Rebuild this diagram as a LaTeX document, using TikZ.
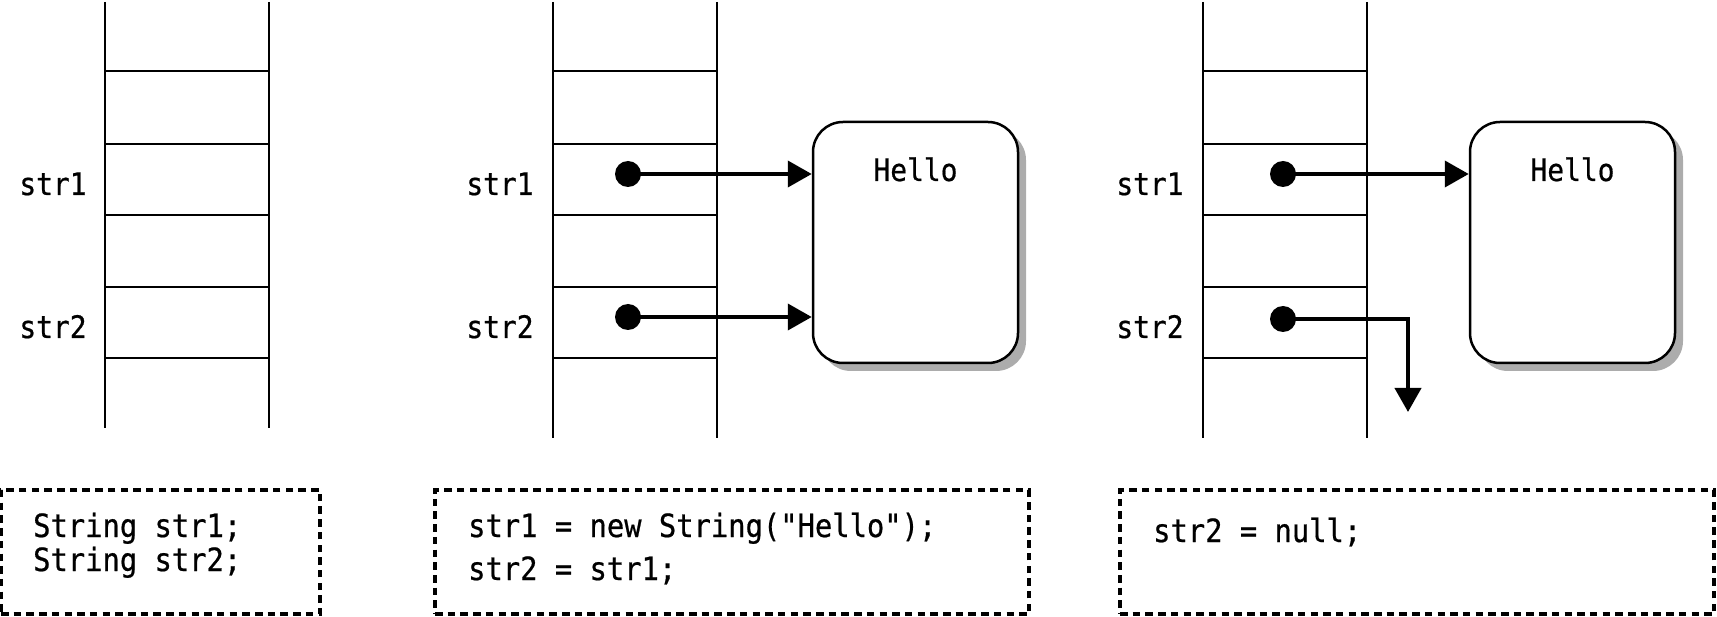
\documentclass[tikz,border=0pt]{standalone}
\usepackage{fontspec}
\newfontfamily\codefont[FakeStretch=0.9,FakeBold=0.6]{DejaVu Sans Mono}
\usetikzlibrary{arrows.meta,shadows}
\begin{document}
\begin{tikzpicture}[x=1pt,y=-1pt,
  stackline/.style={line width=2.6pt},
  lbl/.style={font=\codefont\fontsize{31}{36}\selectfont, inner sep=0pt, anchor=base},
  code/.style={font=\codefont\fontsize{32}{38}\selectfont, inner sep=0pt, anchor=base west},
  dot/.style={circle, fill=black, inner sep=0pt, minimum size=26pt},
  ref/.style={line width=4pt, -{Triangle[length=24pt,width=26pt]}},
  obj/.style={draw, line width=2.5pt, rounded corners=30pt, fill=white, minimum width=205pt, minimum height=241pt, inner sep=0pt, drop shadow={shadow xshift=8pt, shadow yshift=-8pt, fill=gray!65, opacity=1}},
  codebox/.style={draw, line width=3.8pt, dash pattern=on 7.5pt off 5.2pt, inner sep=0pt},
]
\useasboundingbox (0,0) rectangle (1717,617);

% stacks
\foreach \xl/\yb in {105/428,553/438,1203/438} {
  \draw[stackline] (\xl,2) -- (\xl,\yb);
  \draw[stackline] (\xl+164,2) -- (\xl+164,\yb);
  \foreach \y in {71,144,215,287,358}
    \draw[stackline] (\xl,\y) -- (\xl+164,\y);
}

% labels
\node[lbl] (l1a) at (53,195) {str1};
\node[lbl] (l1b) at (53,338) {str2};
\node[lbl] (l2a) at (500,195) {str1};
\node[lbl] (l2b) at (500,338) {str2};
\node[lbl] (l3a) at (1150,195) {str1};
\node[lbl] (l3b) at (1150,338) {str2};

% objects
\node[obj] (h2) at (915.5,242.5) {};
\node[lbl] (h2t) at (915.5,181) {Hello};
\node[obj] (h3) at (1572.5,242.5) {};
\node[lbl] (h3t) at (1572.5,181) {Hello};

% references stage 2
\node[dot] (d2a) at (628,174) {};
\node[dot] (d2b) at (628,317) {};
\draw[ref] (d2a.center) -- (d2a -| h2.west);
\draw[ref] (d2b.center) -- (d2b -| h2.west);

% references stage 3
\node[dot] (d3a) at (1283,174) {};
\node[dot] (d3b) at (1283,319) {};
\coordinate (nullend) at (1408,412);
\draw[ref] (d3a.center) -- (d3a -| h3.west);
\draw[ref] (d3b.center) -| (nullend);

% code boxes
\node[codebox, minimum width=319pt, minimum height=124pt] (cb1) at (160.5,552) {};
\node[codebox, minimum width=594pt, minimum height=124pt] (cb2) at (732,552) {};
\node[codebox, minimum width=594pt, minimum height=124pt] (cb3) at (1417,552) {};

\node[code] (c1a) at (33,537) {String str1;};
\node[code] (c1b) at (33,571) {String str2;};
\node[code] (c2a) at (468,537) {str1 = new String("Hello");};
\node[code] (c2b) at (468,580) {str2 = str1;};
\node[code] (c3a) at (1153,542) {str2 = null;};
\end{tikzpicture}
\end{document}
